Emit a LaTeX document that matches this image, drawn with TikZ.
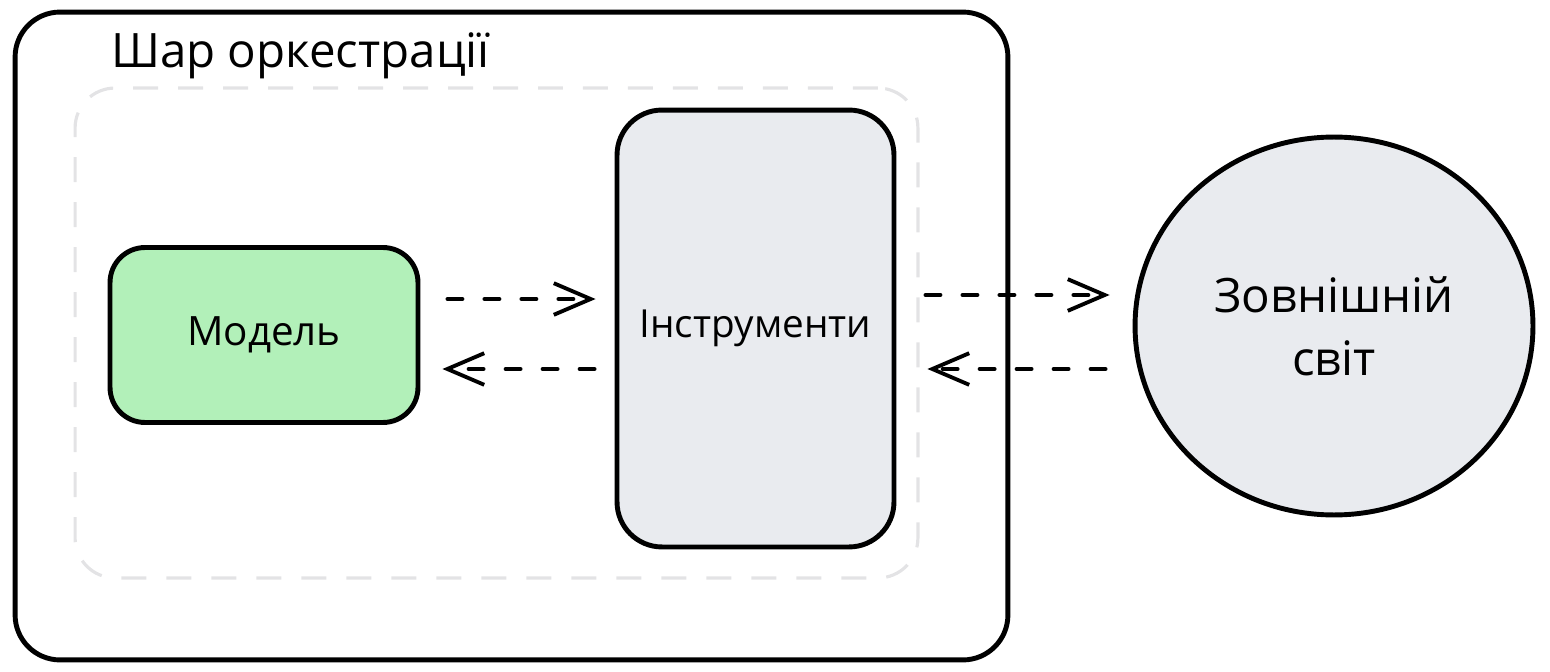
\documentclass[tikz,border=0pt]{standalone}
\usepackage{fontspec}
\setmainfont{Open Sans}
\usetikzlibrary{arrows.meta,shapes.geometric}

\definecolor{mgreen}{HTML}{B2F0B9}
\definecolor{lgrey}{HTML}{E9EBEF}
\definecolor{dgrey}{HTML}{E3E3E5}

\tikzset{
  box/.style = {draw=black, line width=2.8pt, rounded corners=0.8cm},
  flow/.style = {line width=2.2pt, line cap=round, dash pattern=on 0.3cm off 0.44cm,
                 -{Straight Barb[length=21pt, width=18pt, line width=2.2pt]}},
}

\begin{document}
\begin{tikzpicture}[x=0.02cm, y=-0.02cm]
\useasboundingbox (0, 0) rectangle (1550, 672);

\draw (511.5, 336) node[box, minimum width=19.86cm, minimum height=12.96cm, rounded corners=0.9cm] (o) {};
\draw (496.5, 333) node[draw=dgrey, line width=1.8pt, dash pattern=on 0.5cm off 0.4cm,
  rounded corners=0.8cm, minimum width=16.86cm, minimum height=9.8cm] (p) {};
\draw (105, 56) node[anchor=west, font=\fontsize{27}{30}\selectfont] (t) {Шар оркестрації};

\draw (264, 335) node[box, fill=mgreen, minimum width=6.16cm, minimum height=3.5cm,
  rounded corners=0.7cm, font=\fontsize{23}{26}\selectfont] (m) {Модель};
\draw (755.5, 328.5) node[box, fill=lgrey, minimum width=5.54cm, minimum height=8.74cm,
  rounded corners=0.9cm, font=\fontsize{22}{26}\selectfont] (i) {Інструменти};
\draw (1334, 326) node[ellipse, draw=black, line width=2.8pt, fill=lgrey, minimum width=7.96cm,
  minimum height=7.56cm, align=center, font=\fontsize{27}{36}\selectfont] (w) {Зовнішній\\світ};

\draw[flow] ([xshift=0.54cm]m.east |- 0, 299) -- ([xshift=-0.38cm]i.west |- 0, 299);
\draw[flow] ([xshift=-0.4cm]i.west |- 0, 369) -- ([xshift=0.44cm]m.east |- 0, 369);
\draw[flow] ([xshift=0.58cm]i.east |- 0, 295) -- ([xshift=-0.46cm]w.west |- 0, 295);
\draw[flow] ([xshift=-0.54cm]w.west |- 0, 369) -- ([xshift=0.62cm]i.east |- 0, 369);

\end{tikzpicture}
\end{document}
